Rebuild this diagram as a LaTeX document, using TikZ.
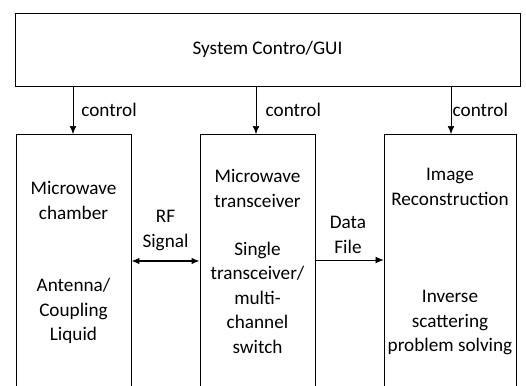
\documentclass[tikz,border=0pt]{standalone}
\usepackage{fontspec}
\setmainfont{Carlito}
\usetikzlibrary{arrows.meta}
\begin{document}
\begin{tikzpicture}[x=0.75pt,y=-0.75pt,
  box/.style={draw=black,line width=0.6pt,rectangle,inner sep=0pt},
  lbl/.style={align=center,inner sep=0pt,font=\fontsize{14.4}{18.4}\selectfont},
  ctl/.style={-{Latex[length=6pt,width=5pt]},line width=0.5pt},
  sig/.style={{Latex[length=6pt,width=5pt]}-{Latex[length=6pt,width=5pt]},line width=1.1pt}]
\useasboundingbox (0,0) rectangle (526,386);
\clip (0,0) rectangle (526,386);
\node[box,minimum width=378.75pt,minimum height=54.75pt] (gui) at (267.5,49.5) {};
\node[lbl] (guit) at (267.5,49.5) {System Contro/GUI};
\node[box,anchor=north,minimum width=86.25pt,minimum height=199.5pt] (cham) at (73.5,134) {};
\node[box,anchor=north,minimum width=86.25pt,minimum height=199.5pt] (trx) at (257.5,134) {};
\node[box,anchor=north,minimum width=99pt,minimum height=199.5pt] (rec) at (450,134) {};
\node[lbl] (c1) at (73.5,200.5) {Microwave\\chamber};
\node[lbl] (c2) at (73.5,311) {Antenna/\\Coupling\\Liquid};
\node[lbl] (t1) at (257.5,188.5) {Microwave\\transceiver};
\node[lbl] (t2) at (257.5,297.5) {Single\\transceiver/\\multi-\\channel\\switch};
\node[lbl] (r1) at (450,187) {Image\\Reconstruction};
\node[lbl] (r2) at (450,322.5) {Inverse\\scattering\\problem solving};
\node[lbl] (rf) at (165.5,230.5) {RF\\Signal};
\node[lbl] (df) at (348,235) {Data\\File};
\coordinate (a1) at (73,134);
\coordinate (a2) at (256,134);
\coordinate (a3) at (451,134);
\draw[ctl] (gui.south -| a1) -- (a1) node[lbl,midway,right=6pt] (l1) {control};
\draw[ctl] (gui.south -| a2) -- (a2) node[lbl,midway,right=7pt] (l2) {control};
\draw[ctl] (gui.south -| a3) -- (a3) node[lbl,midway,right=1pt] (l3) {control};
\coordinate (s1) at (0,261);
\coordinate (s2) at (0,260);
\draw[sig] (cham.east |- s1) -- (trx.west |- s1);
\draw[ctl] (trx.east |- s2) -- (rec.west |- s2);
\end{tikzpicture}
\end{document}
